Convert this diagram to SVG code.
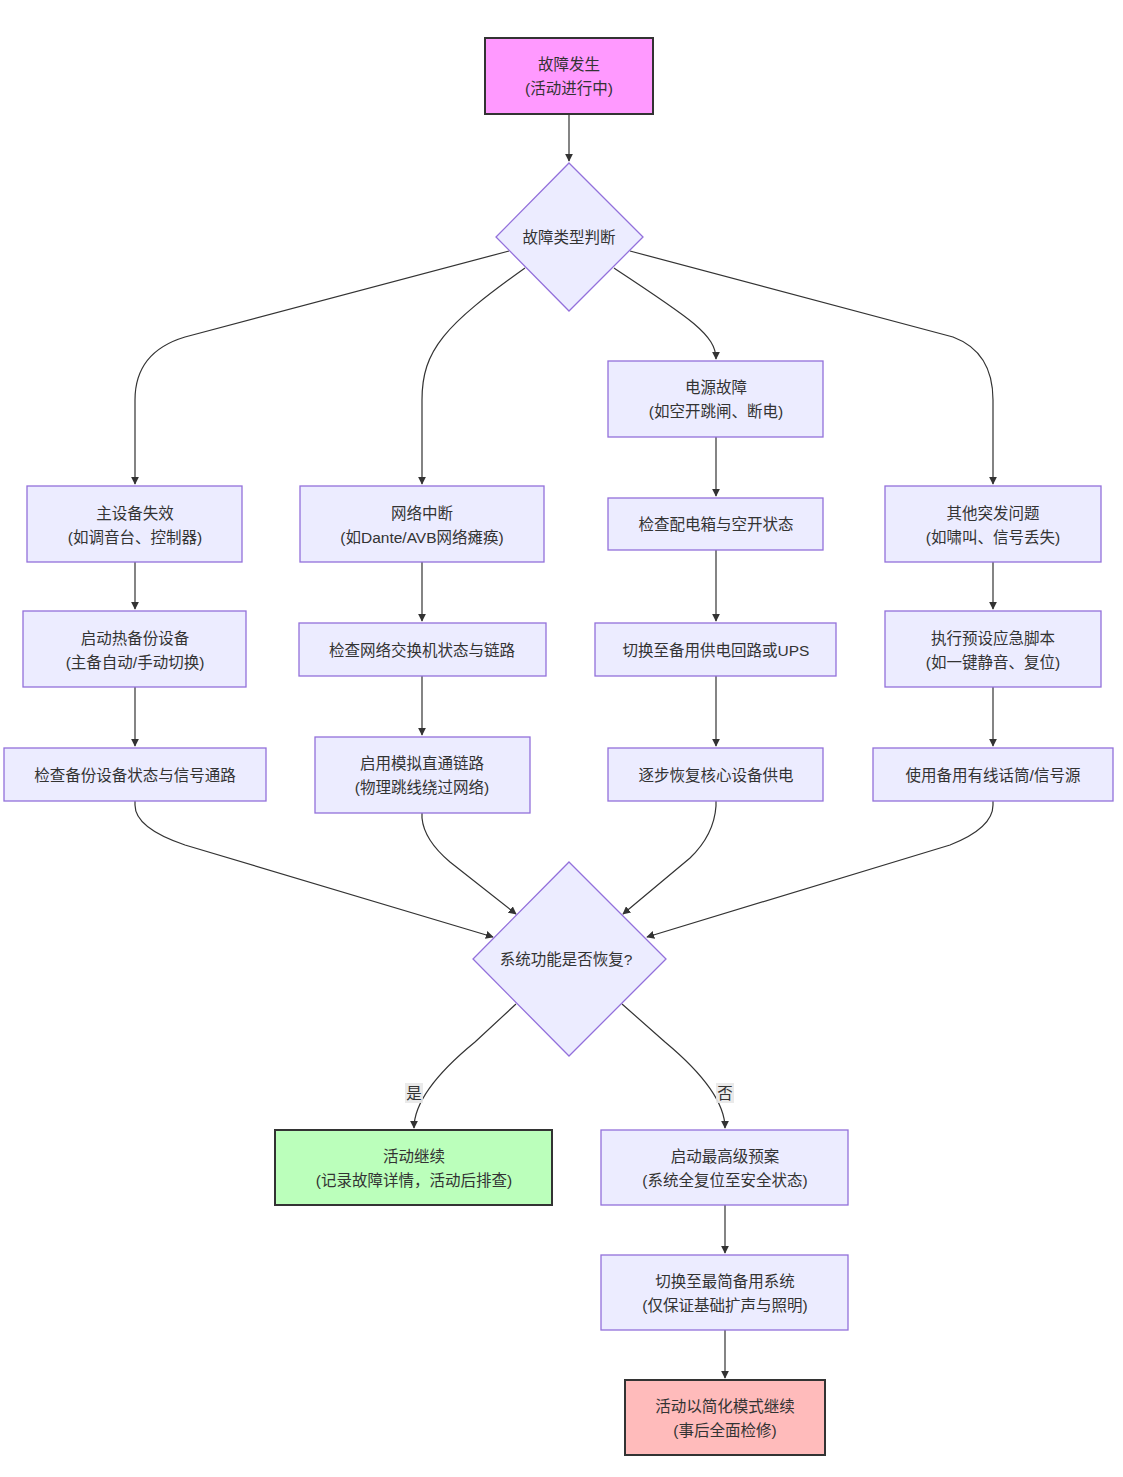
<svg xmlns="http://www.w3.org/2000/svg" width="1123" height="1477" viewBox="0 0 1123 1477">
<defs>
<marker id="arrow" viewBox="0 0 10 10" refX="9" refY="5" markerWidth="8" markerHeight="8" markerUnits="userSpaceOnUse" orient="auto">
<path d="M0,0 L10,5 L0,10 z" fill="#333"/>
</marker>
<style>
.n{fill:#ECECFF;stroke:#9370DB;stroke-width:1.3}
.t{font-family:"Liberation Sans","Noto Sans CJK SC",sans-serif;font-size:15.5px;fill:#333;text-anchor:middle}
.e{fill:none;stroke:#333;stroke-width:1.2;marker-end:url(#arrow)}
.lb{fill:#e8e8e8;opacity:0.9}
</style>
</defs>
<rect width="1123" height="1477" fill="#fff"/>
<g id="connectors">
<path class="e" d="M569,114 L569,161"/>
<path class="e" d="M509,251 L185,337 Q135,352 135,400 L135,484"/>
<path class="e" d="M525,268 C445,325 422,350 422,400 L422,484"/>
<path class="e" d="M614,268 C690,318 716,335 716,359"/>
<path class="e" d="M630,251 L953,337 Q993,352 993,400 L993,484"/>
<path class="e" d="M135,562 L135,609"/>
<path class="e" d="M135,687 L135,746"/>
<path class="e" d="M422,562 L422,621"/>
<path class="e" d="M422,676 L422,735"/>
<path class="e" d="M716,437 L716,496"/>
<path class="e" d="M716,550 L716,621"/>
<path class="e" d="M716,676 L716,746"/>
<path class="e" d="M993,562 L993,609"/>
<path class="e" d="M993,687 L993,746"/>
<path class="e" d="M135,801 L135,805 Q135,828 185,845 L493,937"/>
<path class="e" d="M422,813 L422,818 Q424,840 450,862 L516,914"/>
<path class="e" d="M716,801 L716,806 Q714,835 690,858 L623,914"/>
<path class="e" d="M993,801 L993,805 Q993,828 950,845 L647,937"/>
<path class="e" d="M516,1004 L475,1042 Q414,1092 414,1128"/>
<path class="e" d="M622,1004 L665,1042 Q725,1092 725,1128"/>
<path class="e" d="M725,1205 L725,1253"/>
<path class="e" d="M725,1330 L725,1378"/>
<rect class="lb" x="405" y="1083" width="18" height="20"/>
<text class="t" x="414" y="1099">是</text>
<rect class="lb" x="716" y="1083" width="18" height="20"/>
<text class="t" x="725" y="1099">否</text>
</g>
<g id="A">
<rect x="485" y="38" width="168" height="76" fill="#f9f" stroke="#333" stroke-width="2"/>
<text class="t" x="569" y="69.5">故障发生</text>
<text class="t" x="569" y="93.5">(活动进行中)</text>
</g>
<g id="B">
<polygon class="n" points="569,163 643,237 569,311 496,237"/>
<text class="t" x="569" y="242.5">故障类型判断</text>
</g>
<g id="C1">
<rect class="n" x="27" y="486" width="215" height="76"/>
<text class="t" x="135" y="518.5">主设备失效</text>
<text class="t" x="135" y="542.5">(如调音台、控制器)</text>
</g>
<g id="C2">
<rect class="n" x="300" y="486" width="244" height="76"/>
<text class="t" x="422" y="518.5">网络中断</text>
<text class="t" x="422" y="542.5">(如Dante/AVB网络瘫痪)</text>
</g>
<g id="C3">
<rect class="n" x="608" y="361" width="215" height="76"/>
<text class="t" x="716" y="392.5">电源故障</text>
<text class="t" x="716" y="416.5">(如空开跳闸、断电)</text>
</g>
<g id="C4">
<rect class="n" x="885" y="486" width="216" height="76"/>
<text class="t" x="993" y="518.5">其他突发问题</text>
<text class="t" x="993" y="542.5">(如啸叫、信号丢失)</text>
</g>
<g id="D1">
<rect class="n" x="23" y="611" width="223" height="76"/>
<text class="t" x="135" y="643.5">启动热备份设备</text>
<text class="t" x="135" y="667.5">(主备自动/手动切换)</text>
</g>
<g id="D2">
<rect class="n" x="299" y="623" width="247" height="53"/>
<text class="t" x="422" y="655.5">检查网络交换机状态与链路</text>
</g>
<g id="D3">
<rect class="n" x="608" y="498" width="215" height="52"/>
<text class="t" x="716" y="529.5">检查配电箱与空开状态</text>
</g>
<g id="D4">
<rect class="n" x="885" y="611" width="216" height="76"/>
<text class="t" x="993" y="643.5">执行预设应急脚本</text>
<text class="t" x="993" y="667.5">(如一键静音、复位)</text>
</g>
<g id="E1">
<rect class="n" x="4" y="748" width="262" height="53"/>
<text class="t" x="135" y="780.5">检查备份设备状态与信号通路</text>
</g>
<g id="E2">
<rect class="n" x="315" y="737" width="215" height="76"/>
<text class="t" x="422" y="768.5">启用模拟直通链路</text>
<text class="t" x="422" y="792.5">(物理跳线绕过网络)</text>
</g>
<g id="E3">
<rect class="n" x="595" y="623" width="241" height="53"/>
<text class="t" x="716" y="655.5">切换至备用供电回路或UPS</text>
</g>
<g id="F3">
<rect class="n" x="608" y="748" width="215" height="53"/>
<text class="t" x="716" y="780.5">逐步恢复核心设备供电</text>
</g>
<g id="E4">
<rect class="n" x="873" y="748" width="240" height="53"/>
<text class="t" x="993" y="780.5">使用备用有线话筒/信号源</text>
</g>
<g id="G">
<polygon class="n" points="569,862 666,959 569,1056 473,959"/>
<text class="t" x="566" y="964.5">系统功能是否恢复?</text>
</g>
<g id="H">
<rect x="275" y="1130" width="277" height="75" fill="#bfb" stroke="#333" stroke-width="2"/>
<text class="t" x="414" y="1161.5">活动继续</text>
<text class="t" x="414" y="1185.5">(记录故障详情，活动后排查)</text>
</g>
<g id="I">
<rect class="n" x="601" y="1130" width="247" height="75"/>
<text class="t" x="725" y="1161.5">启动最高级预案</text>
<text class="t" x="725" y="1185.5">(系统全复位至安全状态)</text>
</g>
<g id="J">
<rect class="n" x="601" y="1255" width="247" height="75"/>
<text class="t" x="725" y="1286.5">切换至最简备用系统</text>
<text class="t" x="725" y="1310.5">(仅保证基础扩声与照明)</text>
</g>
<g id="K">
<rect x="625" y="1380" width="200" height="75" fill="#fbb" stroke="#333" stroke-width="2"/>
<text class="t" x="725" y="1411.5">活动以简化模式继续</text>
<text class="t" x="725" y="1435.5">(事后全面检修)</text>
</g>
</svg>
